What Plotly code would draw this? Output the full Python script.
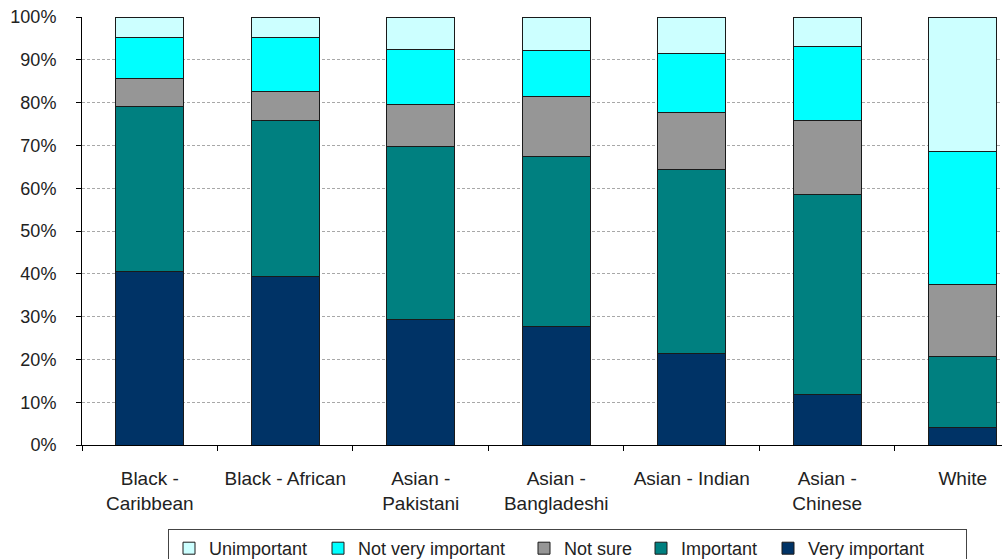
import plotly.graph_objects as go

categories = ["Black -<br>Caribbean", "Black - African", "Asian -<br>Pakistani",
              "Asian -<br>Bangladeshi", "Asian - Indian", "Asian -<br>Chinese", "White"]
very_important = [40.6, 39.4, 29.3, 27.6, 21.4, 11.9, 4.0]
important = [38.4, 36.4, 40.4, 39.9, 43.0, 46.6, 16.7]
not_sure = [6.6, 6.8, 9.9, 13.9, 13.2, 17.4, 16.8]
not_very_important = [9.5, 12.5, 12.8, 10.8, 13.9, 17.2, 31.1]
unimportant = [4.9, 4.9, 7.6, 7.8, 8.5, 6.9, 31.4]

series = [
    ("Very important", very_important, "#003366", 153),
    ("Important", important, "#008080", 82),
    ("Not sure", not_sure, "#969696", 72),
    ("Not very important", not_very_important, "#00FFFF", 161),
    ("Unimportant", unimportant, "#CCFFFF", 104),
]

fig = go.Figure()
for name, vals, color, lw in series:
    fig.add_trace(go.Bar(
        x=categories, y=vals, name=name, width=0.5, legendwidth=lw,
        marker=dict(color=color, line=dict(color="#1a1a1a", width=1)),
    ))

font_family = "Liberation Sans, Arial, sans-serif"
fig.update_layout(
    barmode="stack",
    width=1002, height=559,
    margin=dict(l=82, r=0, t=17, b=114),
    paper_bgcolor="white", plot_bgcolor="white",
    font=dict(family=font_family, size=18, color="#222222"),
    showlegend=True,
    legend=dict(
        orientation="h", traceorder="reversed",
        xref="container", yref="container",
        x=168 / 1002, xanchor="left", y=1 - 529 / 559, yanchor="top",
        bordercolor="#444444", borderwidth=1,
        font=dict(size=18, color="#222222"),
        entrywidthmode="pixels",
    ),
)
fig.update_xaxes(
    type="category",
    range=[-0.5, 6.29],
    automargin=False,
    showline=True, linecolor="black", linewidth=1,
    ticks="outside", ticklen=5, tickcolor="black", tickson="boundaries",
    tickfont=dict(size=19), ticklabelstandoff=16,
    showgrid=False,
)
fig.update_yaxes(
    range=[0, 100], dtick=10, ticksuffix="%",
    automargin=False,
    showline=True, linecolor="black", linewidth=1,
    ticks="outside", ticklen=5, tickcolor="black",
    showgrid=True, gridcolor="#A8A8A8", griddash="3px,2px", gridwidth=1,
    tickfont=dict(size=18), ticklabelstandoff=16,
    zeroline=False,
)

fig.write_html(
    "out.html",
    config={"displayModeBar": False},
    post_script="document.body.style.margin='0';document.body.style.overflow='hidden';",
)
